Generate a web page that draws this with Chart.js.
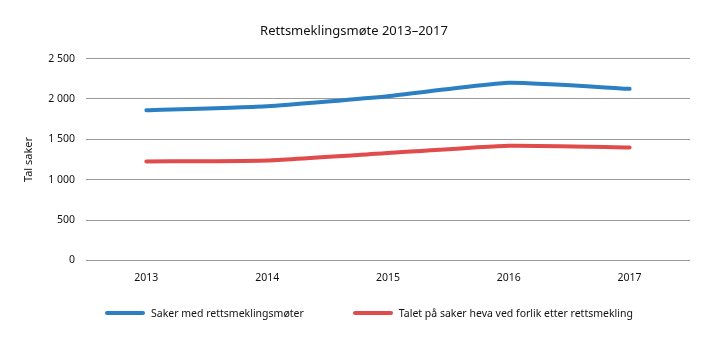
<!DOCTYPE html>
<html lang="no">
<head>
    <meta charset="UTF-8">
    <title>Rettsmeklingsmøte 2013–2017</title>
    <script src="https://cdn.jsdelivr.net/npm/chart.js"></script>
    <style>
        body { margin: 0; background: #fff; }
        #wrap { position: relative; width: 720px; height: 341px; }
        #legend {
            position: absolute; left: 105px; top: 304px;
            display: flex; margin: 0; padding: 0; list-style: none;
            font-family: 'Noto Sans', sans-serif; font-size: 10.5px; color: #111;
        }
        #legend li { display: flex; align-items: center; height: 18px; }
        #legend li + li { margin-left: 49px; }
        #legend .swatch { width: 40px; height: 4px; border-radius: 2px; margin-right: 6px; }
    </style>
</head>
<body>
<div id="wrap">
    <canvas id="myChart"></canvas>
    <ul id="legend"></ul>
</div>
<script>
    const years = ['2013', '2014', '2015', '2016', '2017'];
    const sakerMedMoter = [1860, 1910, 2035, 2200, 2125];
    const sakerForlik = [1225, 1238, 1330, 1420, 1400];
    const yTicks = [0, 500, 1000, 1500, 2000, 2500];

    const font = "'Noto Sans', sans-serif";

    function formatNum(v) {
        return String(v).replace(/\B(?=(\d{3})+(?!\d))/g, ' ');
    }

    // legend as html under the canvas, built from the datasets
    const htmlLegend = {
        id: 'htmlLegend',
        afterUpdate(chart) {
            const ul = document.getElementById('legend');
            ul.innerHTML = '';
            chart.data.datasets.forEach(ds => {
                const li = document.createElement('li');
                const sw = document.createElement('span');
                sw.className = 'swatch';
                sw.style.background = ds.borderColor;
                li.appendChild(sw);
                li.appendChild(document.createTextNode(ds.label));
                ul.appendChild(li);
            });
        }
    };

    const ctx = document.getElementById('myChart').getContext('2d');
    const myChart = new Chart(ctx, {
        type: 'line',
        data: {
            labels: years,
            datasets: [{
                label: 'Saker med rettsmeklingsmøter',
                data: sakerMedMoter,
                borderColor: '#2b7fc3',
                backgroundColor: '#2b7fc3',
                borderWidth: 4,
                pointRadius: 0,
                tension: 0.15,
                borderCapStyle: 'round'
            },
            {
                label: 'Talet på saker heva ved forlik etter rettsmekling',
                data: sakerForlik,
                borderColor: '#e04b4b',
                backgroundColor: '#e04b4b',
                borderWidth: 4,
                pointRadius: 0,
                tension: 0.15,
                borderCapStyle: 'round'
            }]
        },
        options: {
            responsive: true,
            maintainAspectRatio: false,
            animation: false,
            layout: { padding: { left: 18, right: 30, top: 13, bottom: 46 } },
            plugins: {
                title: {
                    display: true,
                    text: 'Rettsmeklingsmøte 2013–2017',
                    color: '#111',
                    font: { family: font, size: 13, weight: 'normal' },
                    padding: { top: 10, bottom: 20 }
                },
                legend: { display: false },
                tooltip: { enabled: false }
            },
            scales: {
                x: {
                    offset: true,
                    grid: { display: false, drawTicks: false },
                    border: { display: false },
                    ticks: { color: '#111', font: { family: font, size: 10.5 }, padding: 11 }
                },
                y: {
                    min: 0,
                    max: 2500,
                    afterBuildTicks: function(axis) {
                        axis.ticks = yTicks.map(v => ({ value: v }));
                    },
                    grid: { color: '#9a9a9a', lineWidth: 1, drawTicks: false },
                    border: { display: false },
                    ticks: {
                        color: '#111',
                        font: { family: font, size: 10.5 },
                        padding: 11,
                        callback: function(value) { return formatNum(value); }
                    },
                    title: {
                        display: true,
                        text: 'Tal saker',
                        color: '#111',
                        font: { family: font, size: 11 },
                        padding: { bottom: 2 }
                    }
                }
            }
        },
        plugins: [htmlLegend]
    });
</script>
</body>
</html>
